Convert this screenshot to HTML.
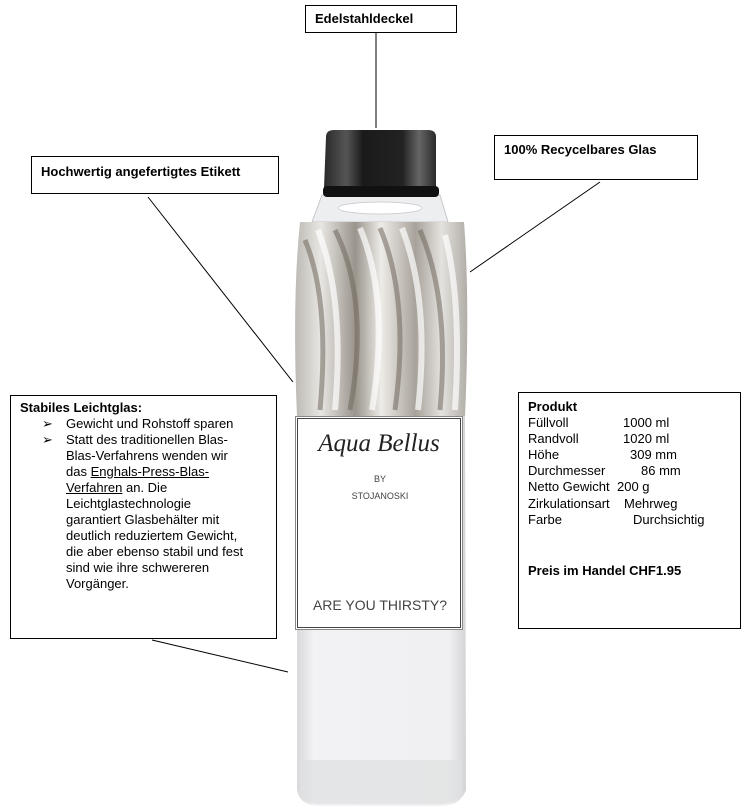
<!DOCTYPE html>
<html><head><meta charset="utf-8"><style>
html,body{margin:0;padding:0;background:#fff;width:749px;height:811px;overflow:hidden}
body{position:relative;font-family:"Liberation Sans",Arial,sans-serif;font-size:13px;color:#000}
.box{position:absolute;border:1px solid #000;background:#fff;box-sizing:border-box}
b{font-weight:bold}
.t{position:absolute;line-height:16px}
.r{position:absolute;line-height:16px;white-space:nowrap}
</style></head><body>
<svg width="749" height="811" style="position:absolute;left:0;top:0">
<defs>
<linearGradient id="cap" x1="0" x2="1">
<stop offset="0" stop-color="#2a2a2a"/><stop offset="0.2" stop-color="#555"/><stop offset="0.35" stop-color="#1a1a1a"/><stop offset="0.7" stop-color="#222"/><stop offset="0.85" stop-color="#666"/><stop offset="1" stop-color="#2a2a2a"/>
</linearGradient>
<linearGradient id="body" x1="0" x2="1">
<stop offset="0" stop-color="#bdbab4"/><stop offset="0.15" stop-color="#e8e6e2"/><stop offset="0.35" stop-color="#9a948c"/><stop offset="0.5" stop-color="#eeece8"/><stop offset="0.7" stop-color="#a8a29a"/><stop offset="0.85" stop-color="#e4e2de"/><stop offset="1" stop-color="#b0aca6"/>
</linearGradient>
<linearGradient id="low" x1="0" x2="1">
<stop offset="0" stop-color="#d8d8da"/><stop offset="0.1" stop-color="#f2f2f4"/><stop offset="0.9" stop-color="#f0f0f2"/><stop offset="1" stop-color="#d4d4d6"/>
</linearGradient>
</defs>
<line x1="376" y1="32" x2="376" y2="128" stroke="#000"/>
<line x1="148" y1="197" x2="293" y2="382" stroke="#000"/>
<line x1="600" y1="182" x2="470" y2="272" stroke="#000"/>
<line x1="152" y1="640" x2="288" y2="672" stroke="#000"/>
<path d="M322 195 L440 195 L448 222 L312 222 Z" fill="#eceef0" stroke="#c8c8cc"/>
<ellipse cx="380" cy="208" rx="42" ry="6" fill="#fff" stroke="#d0d0d4"/>
<path d="M300 222 L464 222 Q470 300 465 416 L297 416 Q292 300 300 222 Z" fill="url(#body)"/>
<g stroke="#6f675d" stroke-width="5" fill="none" opacity="0.55">
<path d="M305 240 Q330 300 320 410"/><path d="M335 230 Q370 300 350 410"/><path d="M380 228 Q410 300 395 410"/><path d="M420 230 Q450 300 440 410"/>
</g>
<g stroke="#fff" stroke-width="6" fill="none" opacity="0.7">
<path d="M318 230 Q345 300 335 410"/><path d="M360 228 Q390 300 372 410"/><path d="M402 228 Q430 300 418 410"/><path d="M445 235 Q462 300 455 410"/>
</g>
<path d="M297 416 L465 416 L466 790 Q460 806 440 806 L320 806 Q300 806 297 790 Z" fill="url(#low)"/>
<path d="M300 760 L462 760 L462 795 Q455 804 440 804 L320 804 Q305 804 300 795 Z" fill="#dedfe0" opacity="0.7"/>
<path d="M326 137 Q326 130 334 130 L428 130 Q436 130 436 137 L436 188 L324 188 Z" fill="url(#cap)"/>
<rect x="323" y="186" width="116" height="11" rx="4" fill="#111"/>
<rect x="295.5" y="416.5" width="167" height="213" fill="#fff" stroke="#888"/>
<rect x="297.5" y="418.5" width="163" height="209" fill="none" stroke="#444"/>
<text x="379" y="451" text-anchor="middle" font-family="'Liberation Serif',serif" font-style="italic" font-size="25" fill="#222">Aqua Bellus</text>
<text x="380" y="482" text-anchor="middle" font-size="9" fill="#444">BY</text>
<text x="380" y="499" text-anchor="middle" font-size="9" fill="#444">STOJANOSKI</text>
<text x="380" y="610" text-anchor="middle" font-size="14" fill="#444">ARE YOU THIRSTY?</text>
</svg>

<div class="box" style="left:305px;top:5px;width:152px;height:28px"><b class="t" style="left:9px;top:5px">Edelstahldeckel</b></div>
<div class="box" style="left:31px;top:156px;width:248px;height:38px"><b class="t" style="left:9px;top:7px">Hochwertig angefertigtes Etikett</b></div>
<div class="box" style="left:494px;top:135px;width:204px;height:45px"><b class="t" style="left:9px;top:6px">100% Recycelbares Glas</b></div>

<div class="box" style="left:10px;top:395px;width:267px;height:244px">
<div class="t" style="left:9px;top:4px;width:250px">
<b>Stabiles Leichtglas:</b><br>
<div style="position:relative;padding-left:46px">
<span style="position:absolute;left:22px">➢</span>Gewicht und Rohstoff sparen</div>
<div style="position:relative;padding-left:46px;width:200px">
<span style="position:absolute;left:22px">➢</span>Statt des traditionellen Blas-<br>Blas-Verfahrens wenden wir<br>das <u>Enghals-Press-Blas-<br>Verfahren</u> an. Die<br>Leichtglastechnologie<br>garantiert Glasbehälter mit<br>deutlich reduziertem Gewicht,<br>die aber ebenso stabil und fest<br>sind wie ihre schwereren<br>Vorgänger.</div>
</div>
</div>

<div class="box" style="left:518px;top:392px;width:223px;height:237px"></div>
<b class="r" style="left:528px;top:399px">Produkt</b>
<span class="r" style="left:528px;top:415px">Füllvoll</span><span class="r" style="left:623px;top:415px">1000 ml</span>
<span class="r" style="left:528px;top:431px">Randvoll</span><span class="r" style="left:623px;top:431px">1020 ml</span>
<span class="r" style="left:528px;top:447px">Höhe</span><span class="r" style="left:630px;top:447px">309 mm</span>
<span class="r" style="left:528px;top:463px">Durchmesser</span><span class="r" style="left:641px;top:463px">86 mm</span>
<span class="r" style="left:528px;top:479px">Netto Gewicht</span><span class="r" style="left:617px;top:479px">200 g</span>
<span class="r" style="left:528px;top:496px">Zirkulationsart</span><span class="r" style="left:624px;top:496px">Mehrweg</span>
<span class="r" style="left:528px;top:512px">Farbe</span><span class="r" style="left:633px;top:512px">Durchsichtig</span>
<b class="r" style="left:528px;top:563px">Preis im Handel CHF1.95</b>
</body></html>
